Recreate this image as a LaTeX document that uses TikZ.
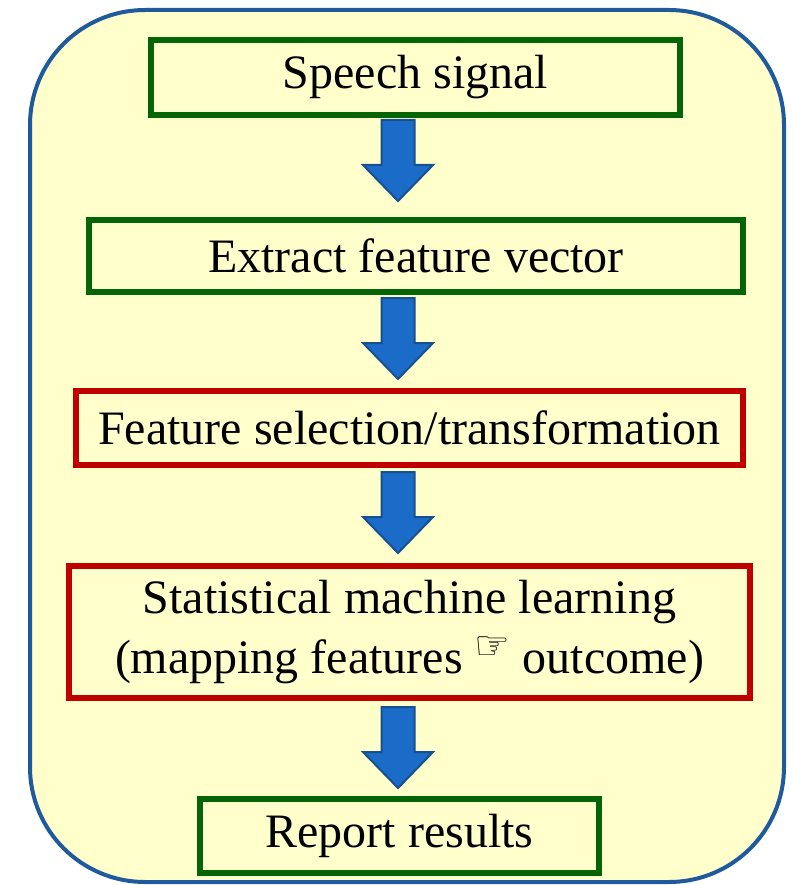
\documentclass[tikz,border=0pt]{standalone}
\usepackage{fontspec}
\setmainfont{Liberation Serif}
\newfontfamily\handfont{DejaVu Sans}
\definecolor{paleyellow}{HTML}{FFFFCC}
\definecolor{frameblue}{HTML}{1F5A9C}
\definecolor{boxgreen}{HTML}{056405}
\definecolor{boxred}{HTML}{C00000}
\definecolor{arrowblue}{HTML}{1A6CC8}
\definecolor{arrowedge}{HTML}{17508F}
\tikzset{stage/.style={draw,line width=6pt,fill=paleyellow,inner sep=0pt,align=center,font={\fontsize{48}{60}\selectfont}}}
\tikzset{goodbox/.style={stage,draw=boxgreen}}
\tikzset{keybox/.style={stage,draw=boxred}}
\tikzset{blockarrow/.style={fill=arrowblue,draw=arrowedge,line width=2pt,line join=miter}}

\begin{document}
\begin{tikzpicture}[x=1pt,y=-1pt]%
    \path [use as bounding box] (0,0) rectangle (794,885);
    \path [draw=frameblue,fill=paleyellow,line width=4pt,rounded corners=115pt] (30,10) rectangle (784,882);
    % stages
    \node [goodbox,minimum width=529pt,minimum height=75pt] (speech) at (415.5,77.5) {Speech signal};
    \node [goodbox,minimum width=654pt,minimum height=72pt] (extract) at (416,256) {Extract feature vector};
    \node [keybox,minimum width=667pt,minimum height=74pt] (select) at (409.5,428) {Feature selection/transformation};
    \node [keybox,minimum width=681pt,minimum height=132pt] (learn) at (409.5,632) {Statistical machine learning\\(mapping features \raisebox{.3em}{\handfont\fontsize{40}{40}\selectfont ☞} outcome)};
    \node [goodbox,minimum width=399pt,minimum height=74pt] (report) at (399.5,836) {Report results};
    % block arrows between stages
    \foreach \t in {120,298,472,707} {
        \path [blockarrow] (398-16.5,\t) -- (398+16.5,\t) -- (398+16.5,\t+45) -- (398+35,\t+45)
            -- (398,\t+81) -- (398-35,\t+45) -- (398-16.5,\t+45) -- cycle;
    }
\end{tikzpicture}
\end{document}
